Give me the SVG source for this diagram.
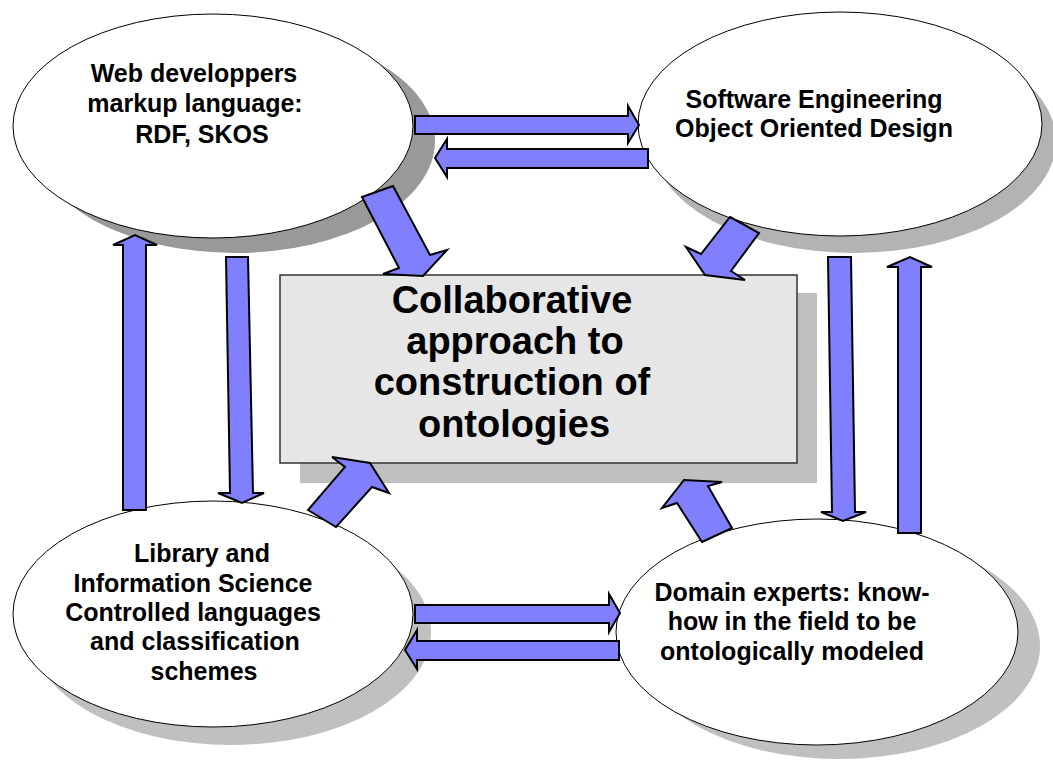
<svg xmlns="http://www.w3.org/2000/svg" width="1053" height="760" viewBox="0 0 1053 760">
<style>
.ell{fill:#ffffff;stroke:#000000;stroke-width:1}
.t{font-family:"Liberation Sans",Arial,sans-serif;font-weight:bold;font-size:25px;fill:#000000;text-anchor:middle}
.tc{font-family:"Liberation Sans",Arial,sans-serif;font-weight:bold;font-size:38px;fill:#000000;text-anchor:middle}
.arr{fill:#8080ff;stroke:#000000;stroke-width:2;stroke-linejoin:miter}
</style>
<rect width="1053" height="760" fill="#ffffff"/>
<g id="node-web">
<ellipse cx="235" cy="141" rx="200" ry="112" fill="#999999"/>
<ellipse class="ell" cx="213" cy="126" rx="200" ry="112"/>
<text class="t" x="194" y="82">Web developpers</text>
<text class="t" x="195" y="112">markup language:</text>
<text class="t" x="202" y="143">RDF, SKOS</text>
</g>
<g id="node-software">
<ellipse cx="854" cy="141" rx="202" ry="112" fill="#b3b3b3"/>
<ellipse class="ell" cx="840" cy="124" rx="202" ry="112"/>
<text class="t" x="814" y="108">Software Engineering</text>
<text class="t" x="814" y="137">Object Oriented Design</text>
</g>
<g id="node-library">
<ellipse cx="231" cy="632" rx="200" ry="113" fill="#c0c0c0"/>
<ellipse class="ell" cx="213" cy="614" rx="200" ry="113"/>
<text class="t" x="202" y="562">Library and</text>
<text class="t" x="193" y="592">Information Science</text>
<text class="t" x="193" y="621">Controlled languages</text>
<text class="t" x="195" y="650">and classification</text>
<text class="t" x="204" y="680">schemes</text>
</g>
<g id="node-domain">
<ellipse cx="839" cy="646" rx="201" ry="113" fill="#c0c0c0"/>
<ellipse class="ell" cx="817" cy="632" rx="201" ry="113"/>
<text class="t" x="792" y="601">Domain experts: know-</text>
<text class="t" x="792" y="630">how in the field to be</text>
<text class="t" x="792" y="660">ontologically modeled</text>
</g>
<g id="node-center">
<rect x="300" y="293" width="517" height="190" fill="#c0c0c0"/>
<rect x="280" y="275" width="517" height="188" fill="#e6e6e6" stroke="#333333" stroke-width="1.5"/>
<text class="tc" x="512" y="313">Collaborative</text>
<text class="tc" x="515" y="354">approach to</text>
<text class="tc" x="512" y="395">construction of</text>
<text class="tc" x="514" y="437">ontologies</text>
</g>
<g id="connectors">
<polygon class="arr" points="415,116 628,116 628,106 639,125 628,143 628,134 415,134"/>
<polygon class="arr" points="648,149 447,149 447,139 435,158 447,177 447,168 648,168"/>
<polygon class="arr" points="415,605 609,605 609,594 620,613 609,632 609,623 415,623"/>
<polygon class="arr" points="619,641 417,641 417,630 405,650 417,669 417,660 619,660"/>
<polygon class="arr" points="123,510 123,245 113,245 135,235 157,245 146,245 146,510"/>
<polygon class="arr" points="226,257 248,257 253,493 264,493 242,503 218,493 230,493"/>
<polygon class="arr" points="828,257 851,257 855,512 866,512 843,521 821,512 832,512"/>
<polygon class="arr" points="898,533 898,267 887,267 910,257 932,267 921,267 921,533"/>
<polygon class="arr" points="362,197 393,186 430,255 447,250 423,276 383,274 399,268"/>
<polygon class="arr" points="730,217 759,233 731,271 745,280 705,275 686,247 701,254"/>
<polygon class="arr" points="308,510 336,527 372,487 389,493 370,463 332,457 345,467"/>
<polygon class="arr" points="702,542 732,528 708,486 722,482 684,480 662,508 677,503"/>
</g>
</svg>
